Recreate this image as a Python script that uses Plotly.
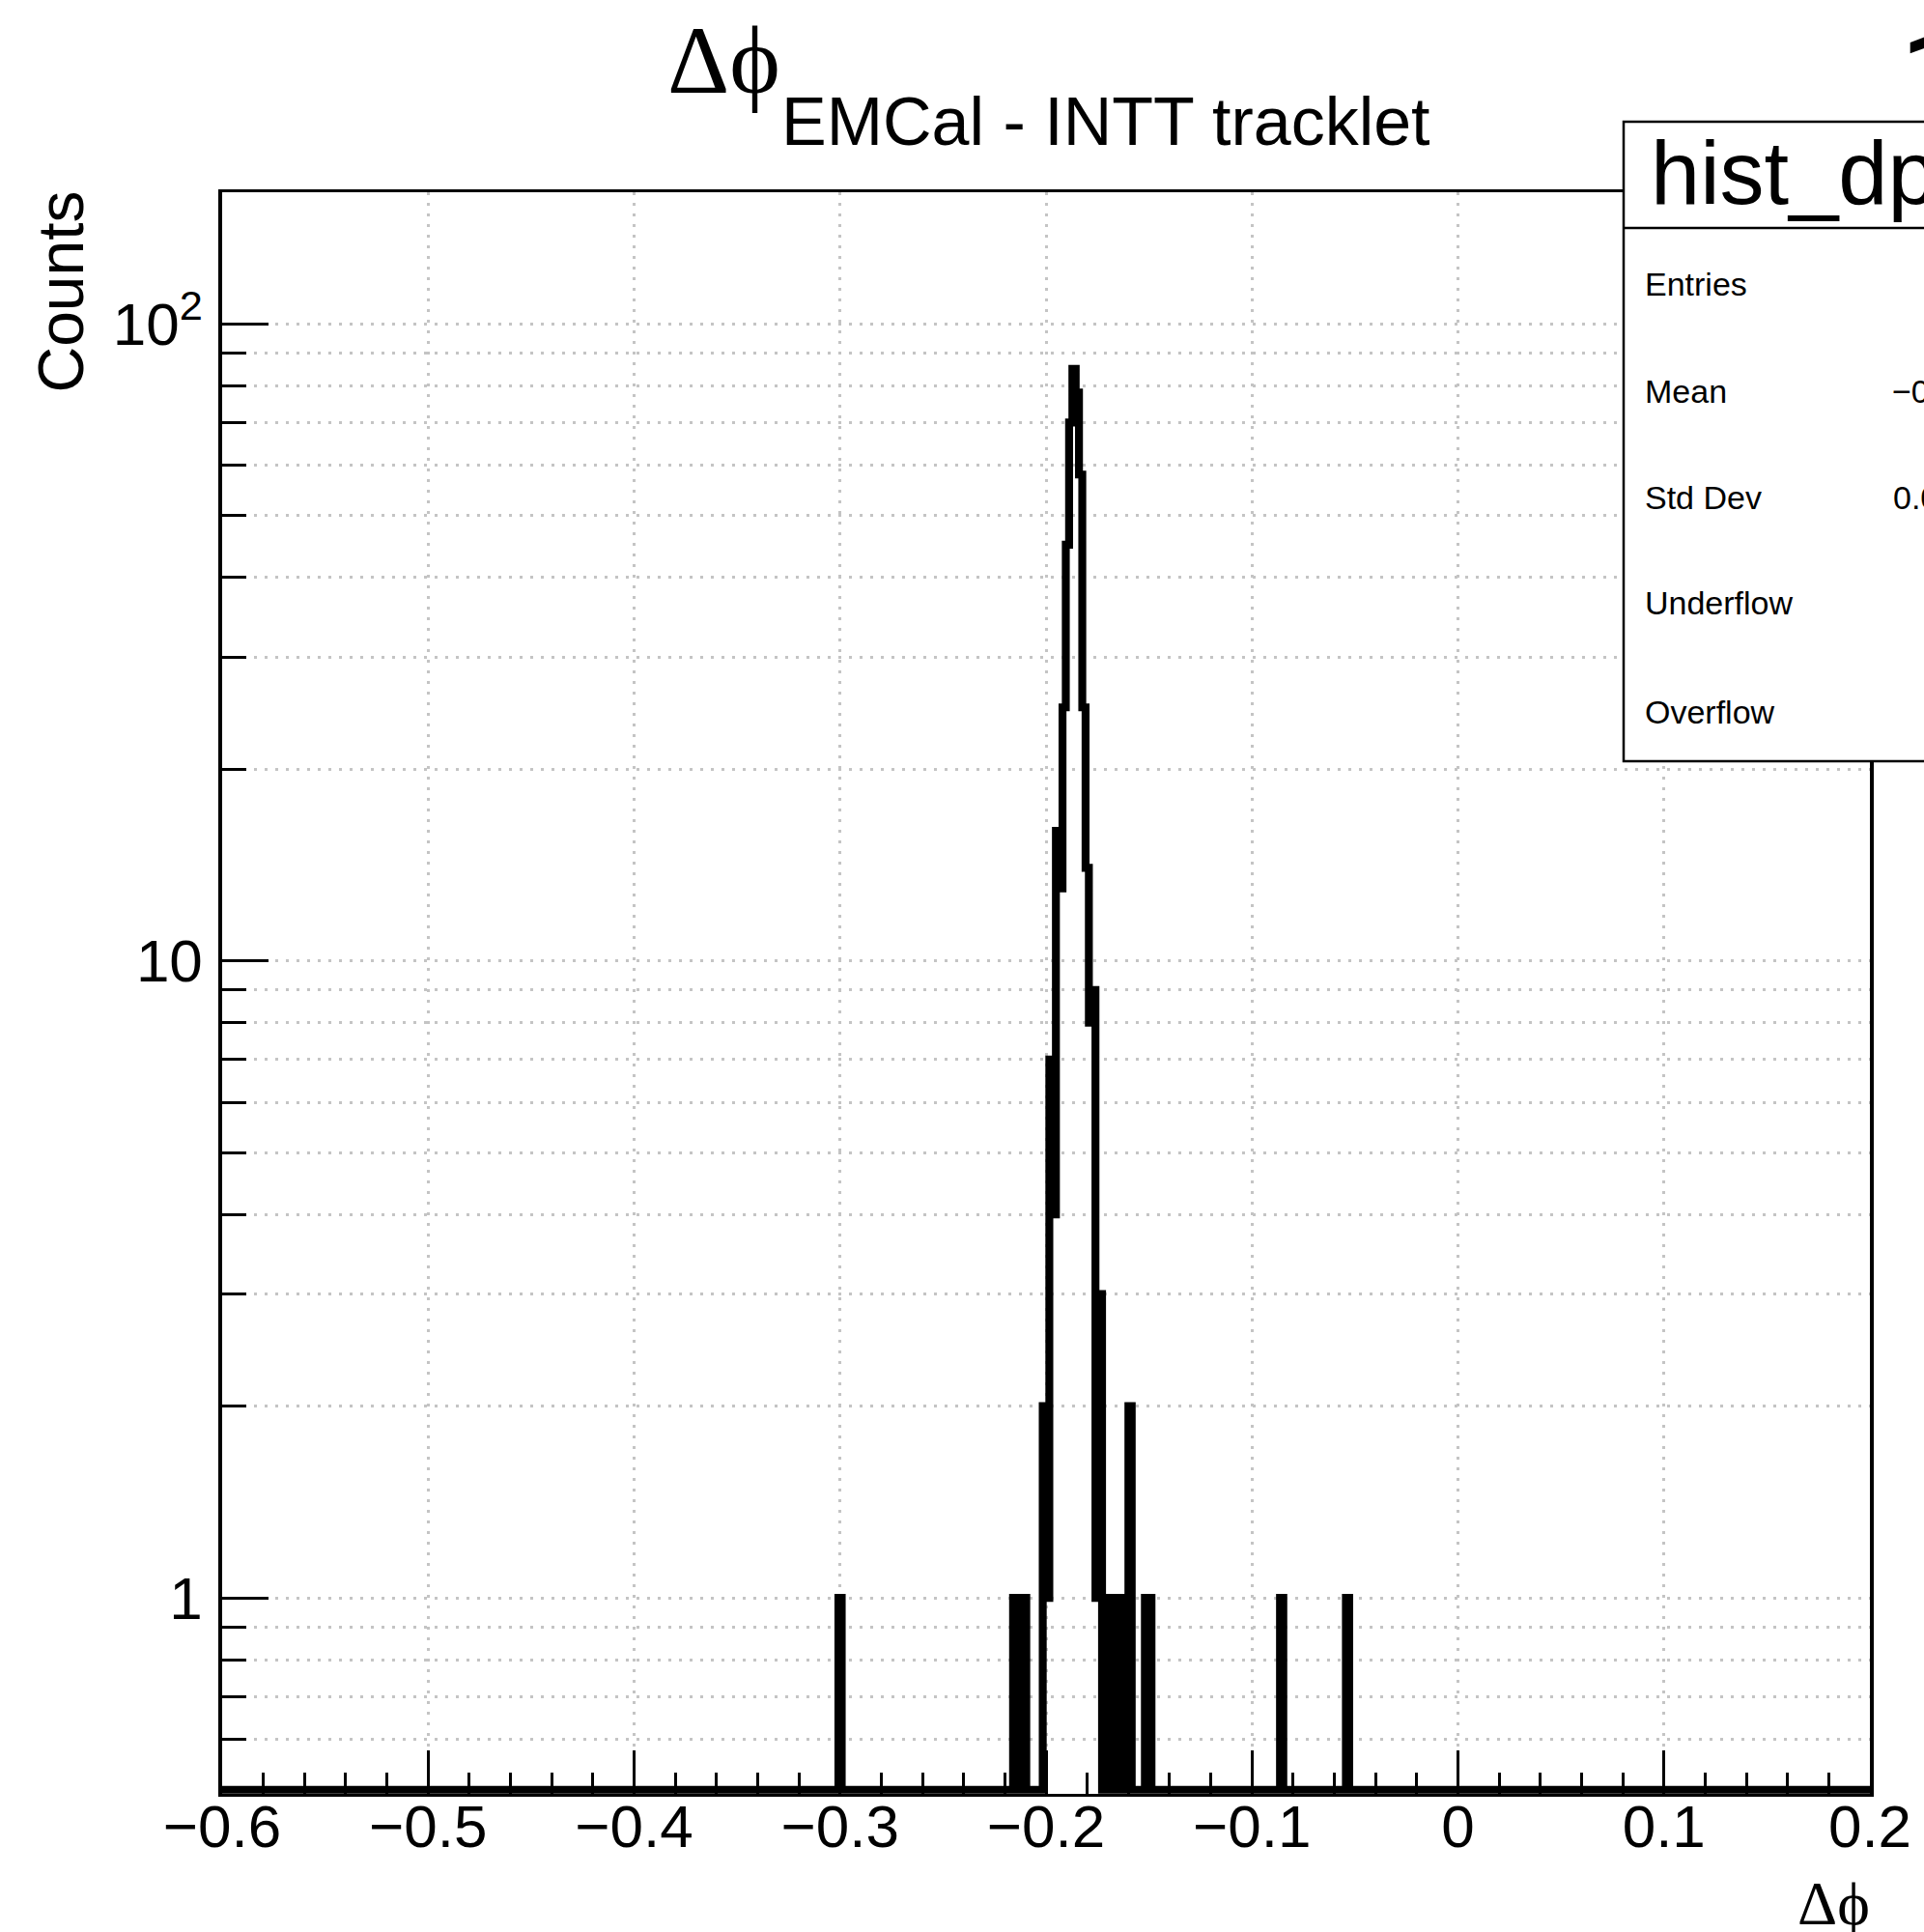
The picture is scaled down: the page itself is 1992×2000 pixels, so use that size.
import numpy as np
import plotly.graph_objects as go

# ---------------- data ----------------
bin_low, bin_high, n_bins = -0.6, 0.2, 500          # histogram binning (width 0.0016)
filled_bins = [187,
               240, 243,
               249, 250, 251, 252, 253, 254, 255, 256, 257, 258, 259, 260, 261, 262, 263, 264, 265, 266,
               268, 269, 271, 272, 274, 275,
               280, 281,
               321, 341]
filled_counts = [1,
                 1, 1,
                 2, 1, 7, 4, 16, 13, 25, 45, 70, 85, 78, 58, 25, 14, 8, 9, 1, 3,
                 1, 1, 1, 1, 1, 2,
                 1, 1,
                 1, 1]
x_tick_vals = [-0.6, -0.5, -0.4, -0.3, -0.2, -0.1, 0.0, 0.1, 0.2]
x_tick_text = ["\u22120.6", "\u22120.5", "\u22120.4", "\u22120.3", "\u22120.2", "\u22120.1", "0", "0.1", "0.2"]
x_minor_step = 0.02
y_tick_vals = [1, 10, 100]
y_tick_text = ["1", "10", "10<sup>2</sup>"]
y_minor_vals = [0.6, 0.7, 0.8, 0.9, 2, 3, 4, 5, 6, 7, 8, 9, 20, 30, 40, 50, 60, 70, 80, 90]
y_min, y_max = 0.4926, 160.9
hist_name = "hist_dphi_emcal_intt"
stat_labels = ["Entries", "Mean", "Std Dev", "Underflow", "Overflow"]

# ---------------- build histogram ----------------
counts = np.zeros(n_bins)
for b, c in zip(filled_bins, filled_counts):
    counts[b] = c
edges = np.linspace(bin_low, bin_high, n_bins + 1)
centers = 0.5 * (edges[:-1] + edges[1:])
floor = 0.5  # zero bins are drawn at the bottom of the log axis (as ROOT does)
y_draw = np.where(counts > 0, counts, floor)
xs = edges
ys = np.append(y_draw, y_draw[-1])

entries = int(counts.sum())
mean = float((counts * centers).sum() / counts.sum())
std = float(np.sqrt((counts * (centers - mean) ** 2).sum() / counts.sum()))
stat_values = [str(entries), ("\u2212%.4f" % abs(mean)) if mean < 0 else "%.4f" % mean,
               "%.5f" % std, "0", "0"]

# ---------------- figure geometry ----------------
W, H = 1992, 2000
L, R, T, B = 230, 1936, 199, 1857
PW, PH = R - L, B - T


def px(xp):
    return (xp - L) / PW


def py(yp):
    return (B - yp) / PH


SANS = "Liberation Sans, Arial, Helvetica, sans-serif"
SERIF = "Liberation Serif, DejaVu Serif, Times New Roman, serif"
GRID = dict(color="#c4c4c4", width=2.5, dash="3px,8px")

fig = go.Figure()
fig.add_trace(go.Scatter(x=xs, y=ys, mode="lines", line=dict(shape="hv", color="black", width=8.2),
                         hoverinfo="skip", showlegend=False))

fig.update_layout(
    width=W, height=H, margin=dict(l=L, r=W - R, t=T, b=H - B, pad=0),
    paper_bgcolor="white", plot_bgcolor="white", showlegend=False,
    font=dict(family=SANS, color="black"),
    xaxis=dict(range=[bin_low, bin_high], tickmode="array", tickvals=x_tick_vals, ticktext=x_tick_text,
               ticks="inside", ticklen=45, tickwidth=2.5, tickcolor="black",
               tickfont=dict(size=62, family=SANS), ticklabelstandoff=-22,
               showline=True, linewidth=3, linecolor="black", mirror=True,
               showgrid=True, gridcolor=GRID["color"], gridwidth=GRID["width"], griddash=GRID["dash"],
               zeroline=False,
               minor=dict(ticks="inside", ticklen=22, tickwidth=2.5, tickcolor="black",
                          dtick=x_minor_step, tick0=bin_low, showgrid=False)),
    yaxis=dict(type="log", range=[np.log10(y_min), np.log10(y_max)], tickmode="array",
               tickvals=y_tick_vals, ticktext=y_tick_text,
               ticks="inside", ticklen=48, tickwidth=2.5, tickcolor="black",
               tickfont=dict(size=62, family=SANS), ticklabelstandoff=4,
               showline=True, linewidth=3.5, linecolor="black", mirror=True,
               showgrid=True, gridcolor=GRID["color"], gridwidth=GRID["width"], griddash=GRID["dash"],
               zeroline=False,
               minor=dict(ticks="inside", ticklen=25, tickwidth=2.5, tickcolor="black",
                          tickmode="array", tickvals=y_minor_vals, showgrid=True,
                          gridcolor=GRID["color"], gridwidth=GRID["width"], griddash=GRID["dash"])),
)

# statistics box (partly outside the canvas, as in the reference)
fig.add_shape(type="rect", xref="paper", yref="paper", x0=px(1681), x1=px(2200), y0=py(788), y1=py(126),
              line=dict(color="black", width=2.5), fillcolor="white", layer="above")
fig.add_shape(type="line", xref="paper", yref="paper", x0=px(1681), x1=px(2200), y0=py(236), y1=py(236),
              line=dict(color="black", width=2.5), layer="above")

ann = []


def text(t, x, y, size, family=SANS, xanchor="left", yanchor="bottom", angle=0):
    ann.append(dict(text=t, x=px(x), y=py(y), xref="paper", yref="paper", showarrow=False,
                    xanchor=xanchor, yanchor=yanchor, textangle=angle, borderpad=0, borderwidth=0,
                    font=dict(size=size, family=family, color="black")))


# title  Δϕ_{EMCal - INTT tracklet}
text("\u0394\u03d5", 691, 96 + 0.216 * 100, 100, SERIF)
text("EMCal - INTT tracklet", 809, 150 + 0.212 * 70, 70)
# partially visible glyph at the top-right corner (only its flag lies on the canvas)
text("1", 1966, 127 + 0.264 * 140, 140, "Roboto")
# axis titles
text("Counts", 62, 198, 66, xanchor="center", yanchor="top", angle=-90)
text("\u0394\u03d5", 1936, 1992 + 0.216 * 64, 64, SERIF, xanchor="right")
# stats box
text(hist_name, 1709, 210 + 0.212 * 92, 92)
row_base = [306, 417, 527, 636, 749]
for lab, val, yb in zip(stat_labels, stat_values, row_base):
    text(lab, 1703, yb + 0.212 * 34, 34)
    text(val, 2083, yb + 0.212 * 34, 34, xanchor="right")

fig.update_layout(annotations=ann)
fig.write_html("out.html")
